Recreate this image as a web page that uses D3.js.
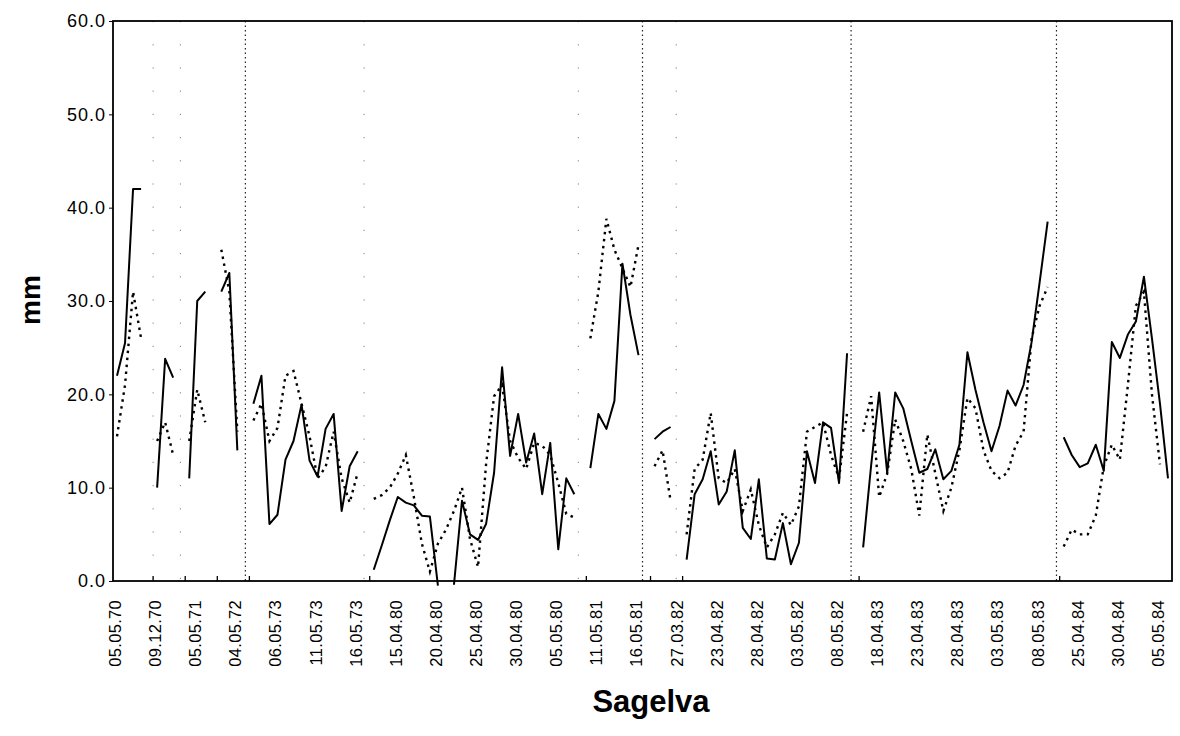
<!DOCTYPE html>
<html>
<head>
<meta charset="utf-8">
<script src="https://cdn.jsdelivr.net/npm/d3@7"></script>
<style>
  html, body { margin: 0; padding: 0; background: #ffffff; }
  svg { display: block; font-family: "Liberation Sans", Arial, sans-serif; }
</style>
</head>
<body>
<svg id="chart" width="1180" height="736"></svg>
<script>
// ---------- data ----------
const tickLabels = ["05.05.70","09.12.70","05.05.71","04.05.72","06.05.73","11.05.73","16.05.73",
  "15.04.80","20.04.80","25.04.80","30.04.80","05.05.80","11.05.81","16.05.81","27.03.82",
  "23.04.82","28.04.82","03.05.82","08.05.82","18.04.83","23.04.83","28.04.83","03.05.83",
  "08.05.83","25.04.84","30.04.84","05.05.84"];
const labelEvery = 5;
const categories = d3.range(132);

const seriesSolid = [
  22, 25.5, 42, 42, null, 10, 23.8, 21.8, null, 11, 30, 31, null, 31, 33, 14, null,
  19, 22, 6.1, 7.1, 13, 15, 18.9, 12.9, 11.2, 16.3, 17.9, 7.5, 12.3, 13.9, null,
  1.2, 3.8, 6.5, 9, 8.4, 8.1, 7, 6.9, -0.5, null, -0.4, 8.6, 5, 4.4, 6.1, 11.6, 22.9, 13.4, 17.9, 12.7, 15.8, 9.3, 14.8, 3.4, 11, 9.3, null,
  12.1, 17.9, 16.3, 19.3, 34, 28.5, 24.2, null,
  15.2, 16, 16.5, null,
  2.3, 9.3, 10.9, 13.9, 8.2, 9.6, 14, 5.7, 4.5, 10.9, 2.4, 2.3, 6.2, 1.8, 4.1, 13.9, 10.5, 17, 16.4, 10.5, 24.4, null,
  3.6, 12.4, 20.2, 11.6, 20.2, 18.5, 15, 11.6, 12, 14.1, 10.9, 11.8, 14.6, 24.5, 20.5, 17, 13.9, 16.6, 20.4, 18.8, 21, 25.6, 32, 38.5, null,
  15.4, 13.5, 12.2, 12.6, 14.6, 11.8, 25.6, 23.9, 26.4, 27.8, 32.6, 26, 19, 11
];
const seriesDotted = [
  15.5, 21, 31, 26, null, 15, 17, 13.5, null, 15, 20.5, 17, null, 35.5, 31, 16, null,
  17.2, 19, 15, 16.4, 22, 22.5, 19, 15.5, 11, 12.2, 16, 11, 8.4, 11.6, null,
  8.8, 9.2, 10, 11.5, 13.5, 9, 4, 1, 4, 5.5, 7.5, 10, 4.5, 1.5, 12.5, 19.8, 21, 15, 13.2, 12, 14.8, 14.5, 13.5, 10.5, 7.2, 6.8, null,
  26, 31, 38.8, 35.5, 33.5, 31.5, 36, null,
  12.3, 14, 8.6, null,
  5, 12, 13, 18, 11, 10.5, 12, 7.5, 9.8, 6, 3.6, 5, 7.3, 6, 8, 16, 16.5, 17, 13.5, 11, 18, null,
  16, 19.8, 9, 11.5, 17.3, 15, 12, 7, 15.7, 11.5, 7.5, 10, 14, 19.6, 18.5, 14, 11.8, 11, 11.6, 14.5, 16, 26, 29.5, 31.5, null,
  3.7, 5.5, 5, 5, 7, 12.3, 14.6, 13, 21, 29.5, 31, 20, 12.5, null
];
// vertical dotted separators (in category-boundary units) and their strength
const separatorPos = [5, 8.4, 16.5, 31.3, 58, 66, 70.2, 92, 117.6];
const separatorStrong = [false, false, true, false, false, true, false, true, true];
// small tick marks found on the category axis (category-boundary units)
const axisMarks = [5, 9, 13, 17, 32, 59, 67, 71, 93, 118];
const yTicks = [0, 10, 20, 30, 40, 50, 60];

// ---------- layout ----------
const svg = d3.select("#chart");
const M = { left: 113, right: 1172, top: 21, bottom: 581 };

const x = d3.scaleBand().domain(categories).range([M.left, M.right]).padding(0);
const step = x.step();
const xc = i => x(i) + x.bandwidth() / 2;
const xb = k => M.left + k * step;
const y = d3.scaleLinear().domain([0, 60]).range([M.bottom, M.top]);

// frame
svg.append("rect")
  .attr("x", M.left).attr("y", M.top)
  .attr("width", M.right - M.left).attr("height", M.bottom - M.top)
  .attr("fill", "none").attr("stroke", "#000").attr("stroke-width", 1.8);

// separators
svg.append("g").selectAll("line").data(separatorPos).join("line")
  .attr("x1", d => xb(d)).attr("x2", d => xb(d))
  .attr("y1", M.top).attr("y2", M.bottom)
  .attr("stroke", "#000")
  .attr("stroke-width", (d, i) => separatorStrong[i] ? 1.2 : 1)
  .attr("stroke-dasharray", (d, i) => separatorStrong[i] ? "1.5,3" : "1.2,22")
  .attr("opacity", (d, i) => separatorStrong[i] ? 0.85 : 0.5);

// y axis
const yAxis = d3.axisLeft(y).tickValues(yTicks).tickFormat(d3.format(".1f")).tickSize(4).tickPadding(3);
const gy = svg.append("g").attr("transform", `translate(${M.left},0)`).call(yAxis);
gy.select(".domain").remove();
gy.selectAll("line").attr("stroke", "#000");
gy.selectAll("text").attr("font-size", 18).attr("fill", "#000")
  .style("letter-spacing", "1px")
  .attr("font-family", "'Liberation Sans', Arial, sans-serif");

// x axis
const xAxis = d3.axisBottom(x)
  .tickValues(categories.filter(i => i % labelEvery === 0))
  .tickFormat(i => tickLabels[i / labelEvery])
  .tickSize(0);
const gx = svg.append("g").attr("transform", `translate(0,${M.bottom})`).call(xAxis);
gx.select(".domain").remove();
gx.selectAll("text")
  .attr("transform", "rotate(-90)")
  .attr("x", -19).attr("y", -2).attr("dy", "0.36em")
  .style("text-anchor", "end")
  .attr("font-size", 16.5).attr("fill", "#000")
  .style("letter-spacing", "0.3px")
  .attr("font-family", "'Liberation Sans', Arial, sans-serif");

// small axis marks
svg.append("g").selectAll("line").data(axisMarks).join("line")
  .attr("x1", d => xb(d)).attr("x2", d => xb(d))
  .attr("y1", M.bottom).attr("y2", M.bottom - 5)
  .attr("stroke", "#000").attr("stroke-width", 1.3);

// lines
const line = d3.line()
  .defined(d => d.v !== null)
  .x(d => xc(d.i))
  .y(d => y(d.v));

const dottedData = seriesDotted.map((v, i) => ({ i, v }));
const solidData = seriesSolid.map((v, i) => ({ i, v }));

svg.append("path").datum(dottedData)
  .attr("d", line)
  .attr("fill", "none").attr("stroke", "#000")
  .attr("stroke-width", 2.4)
  .attr("stroke-dasharray", "2.5,4.5");

svg.append("path").datum(solidData)
  .attr("d", line)
  .attr("fill", "none").attr("stroke", "#000")
  .attr("stroke-width", 2)
  .attr("stroke-linejoin", "round");

// axis titles
svg.append("text")
  .attr("transform", "translate(40,300) rotate(-90)")
  .attr("text-anchor", "middle")
  .attr("font-size", 28).attr("font-weight", "bold")
  .attr("font-family", "'Liberation Sans', Arial, sans-serif")
  .text("mm");

svg.append("text")
  .attr("x", 651).attr("y", 712)
  .attr("text-anchor", "middle")
  .attr("font-size", 31).attr("font-weight", "bold")
  .attr("font-family", "'Liberation Sans', Arial, sans-serif")
  .text("Sagelva");
</script>
</body>
</html>
